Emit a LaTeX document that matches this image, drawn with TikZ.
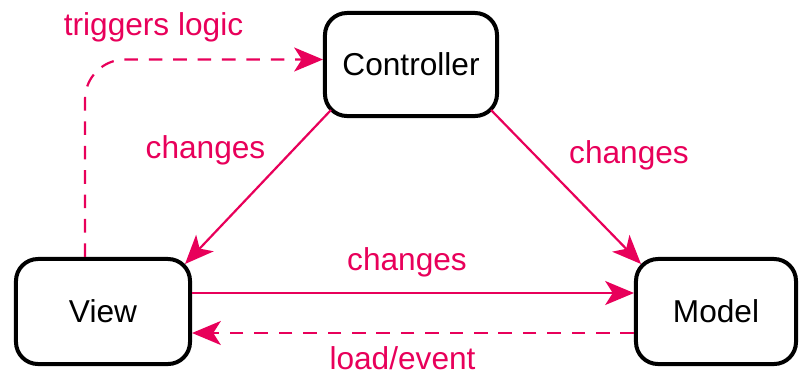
\documentclass[tikz,border=0pt]{standalone}
\usepackage{fontspec}
\setmainfont{Liberation Sans}
\usepackage{tikz}
\usetikzlibrary{arrows.meta,calc}
\definecolor{mvcpink}{HTML}{E8005A}
\tikzset{
  mvcbox/.style={rectangle, rounded corners=0.55cm, draw=black, line width=0.1cm, fill=white,
                 align=center, font=\fontsize{22.5}{25}\selectfont},
  lbl/.style={anchor=base, text=mvcpink, font=\fontsize{22.5}{25}\selectfont},
  arr/.style={-{Stealth[length=0.72cm, width=0.6cm, inset=0.19cm]}, line width=0.055cm, draw=mvcpink},
  darr/.style={arr, dash pattern=on 0.34cm off 0.27cm},
}
\begin{document}
\begin{tikzpicture}[x=0.025cm, y=0.025cm]
    \useasboundingbox (0,0) rectangle (800,378);
    \node[mvcbox, minimum width=4.3cm, minimum height=2.575cm] (ctrl) at (411,313.5) {Controller};
    \node[mvcbox, minimum width=4.35cm, minimum height=2.625cm] (view) at (103,66.5) {View};
    \node[mvcbox, minimum width=4.0cm, minimum height=2.625cm] (model) at (716,66.5) {Model};
    % connectors
    \draw[arr] ($(ctrl.south west)+(8,8)$) -- ($(view.north east)+(-7,-7)$);
    \draw[arr] ($(ctrl.south east)+(-8,8)$) -- ($(model.north west)+(7,-7)$);
    \draw[arr] ($(view.east)+(0,18.5)$) -- ($(model.west)+(0,18.5)$);
    \draw[darr] ($(model.west)+(0,-21.5)$) -- ($(view.east)+(0,-21.5)$);
    \draw[darr, rounded corners=1cm] ($(view.north)+(-18,0)$) |- ($(ctrl.west)+(0,5)$);
    % labels
    \node[lbl] (ltrig) at (153.5,343) {triggers logic};
    \node[lbl] (lcv) at (205.5,220) {changes};
    \node[lbl] (lcm) at (629,215) {changes};
    \node[lbl] (lvm) at (407,108) {changes};
    \node[lbl] (lmv) at (402.5,9) {load/event};
\end{tikzpicture}
\end{document}
